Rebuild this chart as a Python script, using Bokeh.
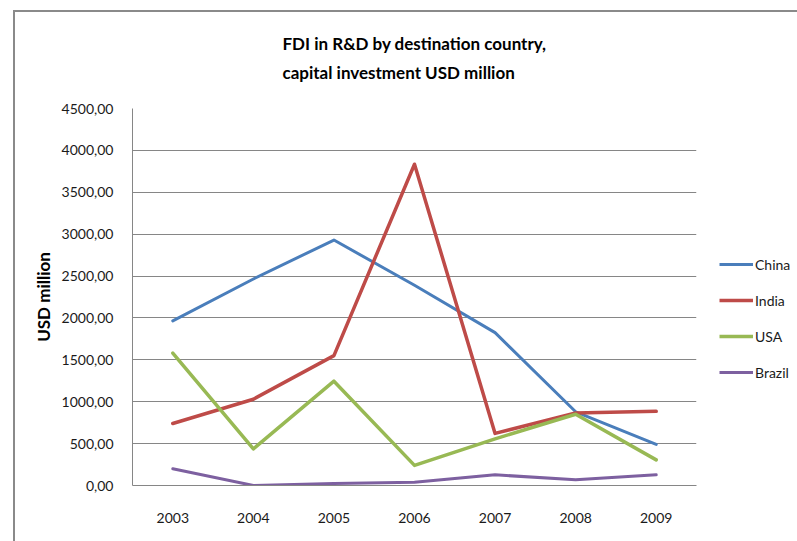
import numpy as np
from bokeh.plotting import figure
from bokeh.layouts import row
from bokeh.models import (Legend, LegendItem, CustomJSTickFormatter,
                          FixedTicker, Range1d, InlineStyleSheet)
from bokeh.embed import file_html
from bokeh.resources import INLINE

years = ["2003", "2004", "2005", "2006", "2007", "2008", "2009"]
china = [1965, 2465, 2930, 2390, 1825, 880, 490]
india = [740, 1030, 1550, 3835, 622, 865, 885]
usa = [1580, 437, 1245, 240, 557, 850, 306]
brazil = [200, 0, 25, 40, 127, 70, 127]
series_names = ["China", "India", "USA", "Brazil"]
y_ticks = [0, 500, 1000, 1500, 2000, 2500, 3000, 3500, 4000, 4500]
title_text = "FDI in R&D by destination country,\ncapital investment USD million"
y_label = "USD million"

colors = ["#4A7EBB", "#BE4B48", "#98B954", "#7D60A0"]
widths = [3, 3.5, 3.5, 3]
FONT = "Lato"

W, H = 797, 541
fl, fr, ft, fb = 132, 696, 108, 485
W1 = 718

css_main = InlineStyleSheet(css="""
:host { position: relative; }
:host::after {
  content: ''; position: absolute; left: 13px; top: 10px; right: 0; bottom: 0;
  border-left: 2px solid #8a8a8a; border-top: 2px solid #8a8a8a;
  pointer-events: none;
}
""")
css_side = InlineStyleSheet(css="""
:host { position: relative; }
:host::after {
  content: ''; position: absolute; left: 0; top: 10px; right: 0; bottom: 0;
  border-top: 2px solid #8a8a8a; pointer-events: none;
}
""")

p = figure(width=W1, height=H, x_range=years, y_range=Range1d(0, 4500),
           output_backend="svg", toolbar_location=None,
           min_border_left=fl, min_border_right=W1 - fr,
           min_border_top=ft, min_border_bottom=H - fb,
           stylesheets=[css_main])
p.outline_line_color = None
p.background_fill_color = "white"
p.border_fill_color = "white"

p.title.text = title_text
p.title.align = "center"
p.title.text_font = FONT
p.title.text_font_style = "bold"
p.title.text_font_size = "17px"
p.title.text_color = "#000000"
p.title.text_line_height = 1.4
p.title.standoff = 51

p.xgrid.grid_line_color = None
p.ygrid.grid_line_color = "#868686"
p.ygrid.grid_line_width = 1

p.yaxis.ticker = FixedTicker(ticks=y_ticks)
p.yaxis.formatter = CustomJSTickFormatter(code="return tick.toFixed(2).replace('.', ',');")
for ax in (p.xaxis[0], p.yaxis[0]):
    ax.axis_line_color = "#868686"
    ax.axis_line_width = 1
    ax.major_tick_line_color = None
    ax.minor_tick_line_color = None
    ax.major_label_text_font = FONT
    ax.major_label_text_font_size = "14px"
    ax.major_label_text_color = "#1a1a1a"
p.yaxis.major_label_standoff = 13
p.xaxis.major_label_standoff = 21
p.yaxis.axis_label = y_label
p.yaxis.axis_label_text_font = FONT
p.yaxis.axis_label_text_font_style = "bold"
p.yaxis.axis_label_text_font_size = "17px"
p.yaxis.axis_label_text_color = "#000000"
p.yaxis.axis_label_standoff = 5

data = [china, india, usa, brazil]
for name, vals, c, w in zip(series_names, data, colors, widths):
    p.line(years, vals, line_color=c, line_width=w, line_join="round", line_cap="round")

# side figure holding the legend (outside the main plot frame)
W2 = W - W1
p2 = figure(width=W2, height=H, x_range=Range1d(0, 1), y_range=Range1d(0, 1),
            output_backend="svg", toolbar_location=None,
            x_axis_location=None, y_axis_location=None,
            min_border_left=0, min_border_right=0,
            min_border_top=0, min_border_bottom=0,
            stylesheets=[css_side])
p2.grid.grid_line_color = None
p2.outline_line_color = None
p2.background_fill_color = "white"
p2.border_fill_color = "white"

items = []
for name, c, w in zip(series_names, colors, widths):
    # placeholder renderer (no visible data) that only provides the legend swatch
    r = p2.line(x=np.array([np.nan]), y=np.array([np.nan]), line_color=c, line_width=w)
    items.append(LegendItem(label=name, renderers=[r]))

legend = Legend(items=items, location=(719 - W1, 103), orientation="vertical",
                glyph_width=34, glyph_height=20, label_height=20,
                spacing=16, padding=0, margin=0, label_standoff=2,
                label_text_font=FONT, label_text_font_size="14px",
                label_text_color="#1a1a1a",
                border_line_color=None, background_fill_alpha=0)
p2.add_layout(legend, "center")

layout = row(p, p2, spacing=0)
open("out.html", "w").write(file_html(layout, INLINE))
